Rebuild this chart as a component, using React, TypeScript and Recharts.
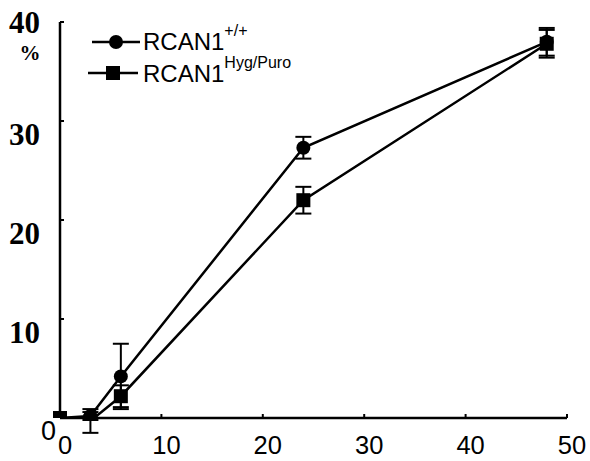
import {
  LineChart,
  Line,
  XAxis,
  YAxis,
  ErrorBar,
} from "recharts";

// hours after treatment
const HOURS = [0, 3, 6, 24, 48];
// RCAN1 +/+ (circles)
const WT_VALUES = [0, 0.2, 4.2, 27.3, 38.0];
const WT_ERR = [0, 0.4, 3.3, 1.1, 1.4];
// RCAN1 Hyg/Puro (squares)
const KO_VALUES = [0, -0.3, 2.2, 22.0, 37.8];
const KO_ERR = [0, 1.2, 1.1, 1.35, 1.4];

const X_TICKS = [0, 10, 20, 30, 40, 50];
const Y_TICKS = [0, 10, 20, 30, 40];

const SANS = "'Liberation Sans', Arial, sans-serif";
const SERIF = "'Liberation Serif', 'Times New Roman', serif";

const data = HOURS.map((t, i) => ({
  t,
  wt: WT_VALUES[i],
  wtErr: WT_ERR[i],
  ko: KO_VALUES[i],
  koErr: KO_ERR[i],
}));

function XTick({ x, y, payload }: any) {
  return (
    <text x={x + 5} y={y} dy="0.72em" textAnchor="middle" fontFamily={SANS} fontSize={25.5} fill="#000">
      {payload.value}
    </text>
  );
}

function YTick({ x, y, payload }: any) {
  if (payload.value === 0) {
    return (
      <text x={x + 16} y={y + 22} textAnchor="end" fontFamily={SANS} fontSize={27} fill="#000">
        0
      </text>
    );
  }
  const dy = payload.value === 40 ? 11 : 24;
  return (
    <g>
      <text x={x} y={y + dy} textAnchor="end" fontFamily={SERIF} fontWeight="bold" fontSize={31} fill="#000">
        {payload.value}
      </text>
      {payload.value === 40 && (
        <text x={x - 10} y={y + 38} textAnchor="middle" fontFamily={SERIF} fontWeight="bold" fontSize={21} fill="#000">
          %
        </text>
      )}
    </g>
  );
}

function Square({ cx, cy }: any) {
  if (cx == null || cy == null) return null;
  return <rect x={cx - 7} y={cy - 7} width={14} height={14} fill="#000" />;
}

function Dot({ cx, cy }: any) {
  if (cx == null || cy == null) return null;
  return <circle cx={cx} cy={cy} r={7} fill="#000" />;
}

function LegendBox() {
  return (
    <svg width={300} height={100} style={{ position: "absolute", left: 0, top: 0 }}>
      <line x1={92} y1={42} x2={140} y2={42} stroke="#000" strokeWidth={2.5} />
      <circle cx={116} cy={42} r={7} fill="#000" />
      <text x={143} y={50} fontFamily={SANS} fontSize={24} fill="#000">
        RCAN1
        <tspan dy={-14} fontSize={16}>+/+</tspan>
      </text>
      <line x1={88} y1={73} x2={138} y2={73} stroke="#000" strokeWidth={2.5} />
      <rect x={106} y={66} width={14} height={14} fill="#000" />
      <text x={143} y={82} fontFamily={SANS} fontSize={24} fill="#000">
        RCAN1
        <tspan dy={-14} fontSize={16}>Hyg/Puro</tspan>
      </text>
    </svg>
  );
}

export default function App() {
  return (
    <div style={{ position: "absolute", left: 0, top: 0, width: 590, height: 461, overflow: "hidden", background: "#fff" }}>
      <LineChart width={590} height={461} data={data} margin={{ top: 22, right: 23, left: 0, bottom: 0 }}>
        <XAxis
          type="number"
          dataKey="t"
          domain={[0, 50]}
          ticks={X_TICKS}
          height={43}
          axisLine={{ stroke: "#000", strokeWidth: 2.5 }}
          tickLine={{ stroke: "#000", strokeWidth: 2 }}
          tickSize={-4}
          tickMargin={22}
          tick={<XTick />}
        />
        <YAxis
          type="number"
          domain={[0, 40]}
          ticks={Y_TICKS}
          width={60}
          allowDataOverflow
          axisLine={{ stroke: "#000", strokeWidth: 2.5 }}
          tickLine={{ stroke: "#000", strokeWidth: 2 }}
          tickSize={-4}
          tickMargin={24}
          tick={<YTick />}
        />
        <Line
          dataKey="wt"
          type="linear"
          stroke="#000"
          strokeWidth={2.5}
          dot={<Dot />}
          isAnimationActive={false}
        >
          <ErrorBar dataKey="wtErr" width={8} stroke="#000" strokeWidth={2} />
        </Line>
        <Line
          dataKey="ko"
          type="linear"
          stroke="#000"
          strokeWidth={2.5}
          dot={<Square />}
          isAnimationActive={false}
        >
          <ErrorBar dataKey="koErr" width={8} stroke="#000" strokeWidth={2} />
        </Line>
      </LineChart>
      <LegendBox />
    </div>
  );
}
